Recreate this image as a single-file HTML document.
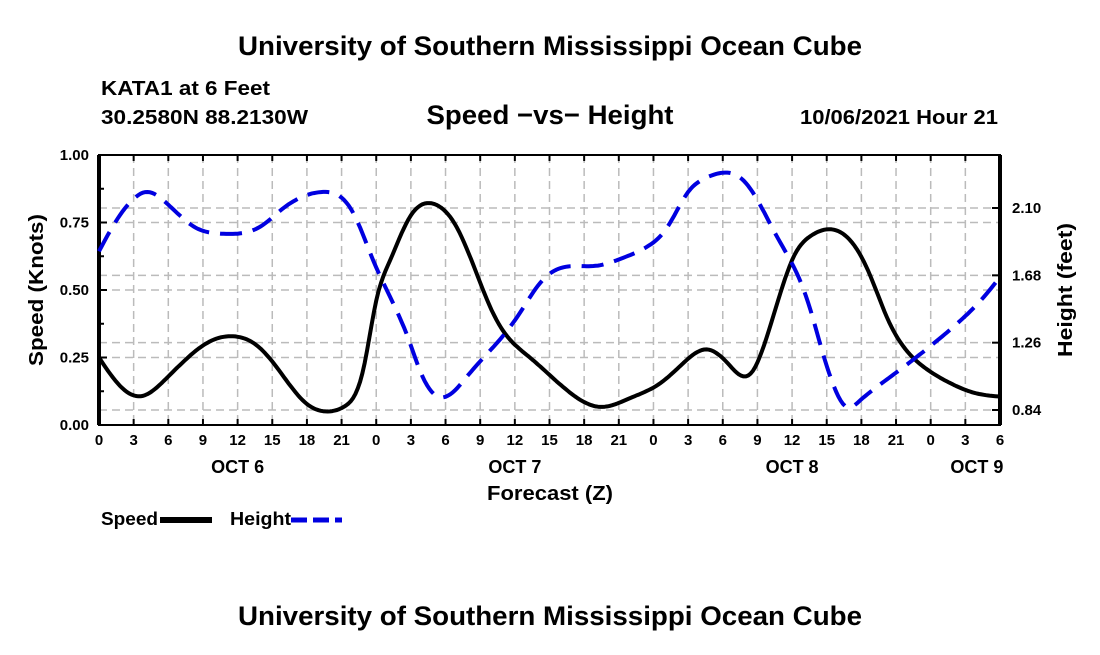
<!DOCTYPE html>
<html><head><meta charset="utf-8"><style>
body{margin:0;background:#fff;}
svg text{font-family:"Liberation Sans",Arial,sans-serif;font-weight:bold;fill:#000;}
</style></head><body>
<svg width="1100" height="650" viewBox="0 0 1100 650">
<text x="550" y="55" font-size="27" text-anchor="middle" textLength="624" lengthAdjust="spacingAndGlyphs">University of Southern Mississippi Ocean Cube</text>
<text x="101" y="95" font-size="20" textLength="169" lengthAdjust="spacingAndGlyphs">KATA1 at 6 Feet</text>
<text x="101" y="124" font-size="20" textLength="207" lengthAdjust="spacingAndGlyphs">30.2580N  88.2130W</text>
<text x="550" y="124" font-size="27" text-anchor="middle" textLength="247" lengthAdjust="spacingAndGlyphs">Speed −vs− Height</text>
<text x="998" y="124" font-size="20" text-anchor="end" textLength="198" lengthAdjust="spacingAndGlyphs">10/06/2021 Hour 21</text>
<g id="grid"></g>
<g id="axes"></g>
<g id="series"></g>
<text x="550" y="500" font-size="20" text-anchor="middle" textLength="126" lengthAdjust="spacingAndGlyphs">Forecast (Z)</text>
<text transform="translate(43,290) rotate(-90)" font-size="20" text-anchor="middle" textLength="152" lengthAdjust="spacingAndGlyphs">Speed (Knots)</text>
<text transform="translate(1072,290) rotate(-90)" font-size="20" text-anchor="middle" textLength="134" lengthAdjust="spacingAndGlyphs">Height (feet)</text>
<g><text x="101" y="525" font-size="18" textLength="57" lengthAdjust="spacingAndGlyphs">Speed</text><line x1="160" y1="520" x2="212" y2="520" stroke="#000" stroke-width="6"/></g>
<g><text x="230" y="525" font-size="18" textLength="61" lengthAdjust="spacingAndGlyphs">Height</text><line x1="291" y1="520" x2="342" y2="520" stroke="#0000e0" stroke-width="5" stroke-dasharray="16,6"/></g>
<text x="550" y="625" font-size="27" text-anchor="middle" textLength="624" lengthAdjust="spacingAndGlyphs">University of Southern Mississippi Ocean Cube</text>
</svg>
<script>
const speedHours=[0,1.6,3.7,5.7,7.7,9.2,11.8,13.8,15.8,17.8,19.8,21.3,22.9,24,25.2,26.9,28.9,31,32.7,34.4,37.3,40.2,43.4,46,48.6,50.6,52.6,54.4,55.8,56.6,57.8,59,60.1,61.6,63.3,65.3,66.8,68.2,69.4,71.4,73.7,75.7,78];
const speedValues=[0.25,0.155,0.107,0.167,0.25,0.30,0.328,0.29,0.19,0.085,0.05,0.07,0.21,0.46,0.61,0.77,0.82,0.73,0.56,0.39,0.25,0.14,0.067,0.10,0.155,0.23,0.28,0.23,0.18,0.20,0.325,0.49,0.62,0.70,0.725,0.67,0.55,0.40,0.305,0.215,0.155,0.12,0.105];
const heightHours=[0,1.4,2.5,4.2,5.7,7.2,8.3,10.6,12,14.1,15.8,17.6,19.3,20.9,22,23.7,24.9,26.7,28,29.5,32.1,34.1,36.2,38.4,40.2,43.1,45.4,47.7,49.2,50.9,52.6,54,55.5,57,58.4,59.8,61.3,62.4,63.5,64.7,65.9,68.2,71.3,74.3,76.9,78];
const heightValues=[1.83,2.01,2.12,2.20,2.14,2.04,1.98,1.94,1.94,1.99,2.09,2.17,2.20,2.17,2.07,1.78,1.59,1.30,1.05,0.92,1.07,1.23,1.42,1.65,1.73,1.74,1.79,1.87,1.98,2.19,2.29,2.32,2.29,2.15,1.96,1.78,1.53,1.26,1.01,0.86,0.90,1.03,1.20,1.38,1.57,1.67];
const leftTicks=["0.00","0.25","0.50","0.75","1.00"];
const rightTicks=["0.84","1.26","1.68","2.10"];
const xTickLabels=["0","3","6","9","12","15","18","21","0","3","6","9","12","15","18","21","0","3","6","9","12","15","18","21","0","3","6"];
const dayLabels=["OCT 6","OCT 7","OCT 8","OCT 9"];
const dayLabelHours=[12,36,60,76];

const L=99,R=1000,T=155,B=425,H0=0,H1=78;
const xS=h=>L+(h-H0)/(H1-H0)*(R-L);
const yL=v=>B-v*(B-T);
const yR=v=>410-(v-0.84)*(202/1.26);
const NS="http://www.w3.org/2000/svg";
function mk(tag,attrs,parent){const e=document.createElementNS(NS,tag);for(const k in attrs)e.setAttribute(k,attrs[k]);parent.appendChild(e);return e;}
const grid=document.getElementById('grid'),axes=document.getElementById('axes'),series=document.getElementById('series');
xTickLabels.forEach((lab,i)=>{const x=xS(i*3);
 if(i>0&&i<xTickLabels.length-1){const g=mk('line',{x1:x,y1:T,x2:x,y2:B,stroke:'#bbb','stroke-width':1.5,'stroke-dasharray':'8,5'},grid);}
 mk('line',{x1:x,y1:B,x2:x,y2:B-6,stroke:'#000','stroke-width':2},axes);
 mk('line',{x1:x,y1:T,x2:x,y2:T+6,stroke:'#000','stroke-width':2},axes);
 const t=mk('text',{x:x,y:B+20,'font-size':15,'text-anchor':'middle'},axes);t.textContent=lab;
 });
dayLabels.forEach((d,i)=>{const t=mk('text',{x:xS(dayLabelHours[i]),y:B+48,'font-size':18,'text-anchor':'middle'},axes);t.textContent=d;
 });
leftTicks.forEach(s=>{const v=parseFloat(s),y=yL(v);
 if(v>0&&v<1){const g=mk('line',{x1:L,y1:y,x2:R,y2:y,stroke:'#bbb','stroke-width':1.5,'stroke-dasharray':'8,5'},grid);}
 mk('line',{x1:L,y1:y,x2:L+8,y2:y,stroke:'#000','stroke-width':2},axes);
 const t=mk('text',{x:L-10,y:y+5,'font-size':15,'text-anchor':'end'},axes);t.textContent=s;
 });
for(let v=0.125;v<1;v+=0.25)mk('line',{x1:L,y1:yL(v),x2:L+5,y2:yL(v),stroke:'#000','stroke-width':2},axes);
rightTicks.forEach(s=>{const v=parseFloat(s),y=yR(v);
 const g=mk('line',{x1:L,y1:y,x2:R,y2:y,stroke:'#bbb','stroke-width':1.5,'stroke-dasharray':'8,5'},grid);
 mk('line',{x1:R,y1:y,x2:R-8,y2:y,stroke:'#000','stroke-width':2},axes);
 const t=mk('text',{x:R+12,y:y+5,'font-size':15},axes);t.textContent=s;
 });
mk('rect',{x:L,y:T,width:R-L,height:B-T,fill:'none',stroke:'#000','stroke-width':2},axes);
mk('line',{x1:L,y1:T,x2:L,y2:B,stroke:'#000','stroke-width':4},axes);
mk('line',{x1:R,y1:T,x2:R,y2:B,stroke:'#000','stroke-width':4},axes);
function spline(xs,ys){const n=xs.length,h=[],a=[],l=[1],mu=[0],z=[0],c=new Array(n).fill(0),b=[],d=[];
 for(let i=0;i<n-1;i++)h[i]=xs[i+1]-xs[i];
 for(let i=1;i<n-1;i++)a[i]=3/h[i]*(ys[i+1]-ys[i])-3/h[i-1]*(ys[i]-ys[i-1]);
 for(let i=1;i<n-1;i++){l[i]=2*(xs[i+1]-xs[i-1])-h[i-1]*mu[i-1];mu[i]=h[i]/l[i];z[i]=(a[i]-h[i-1]*z[i-1])/l[i];}
 for(let j=n-2;j>=0;j--){c[j]=(j>0?z[j]-mu[j]*c[j+1]:0);b[j]=(ys[j+1]-ys[j])/h[j]-h[j]*(c[j+1]+2*c[j])/3;d[j]=(c[j+1]-c[j])/(3*h[j]);}
 return t=>{let i=0;while(i<n-2&&t>xs[i+1])i++;const dx=t-xs[i];return ys[i]+b[i]*dx+c[i]*dx*dx+d[i]*dx*dx*dx;};}
function pathFor(xs,ys,yf){const f=spline(xs,ys);let d='';for(let t=xs[0];t<=xs[xs.length-1]+1e-9;t+=0.2){d+=(d?' L':'M')+xS(t).toFixed(1)+','+yf(f(t)).toFixed(1);}return d;}
const sp=mk('path',{d:pathFor(speedHours,speedValues,yL),fill:'none',stroke:'#000','stroke-width':4,'stroke-linejoin':'round'},series);


const hp=mk('path',{d:pathFor(heightHours,heightValues,yR),fill:'none',stroke:'#0000e0','stroke-width':4,'stroke-dasharray':'22,11'},series);


</script>
</body></html>
